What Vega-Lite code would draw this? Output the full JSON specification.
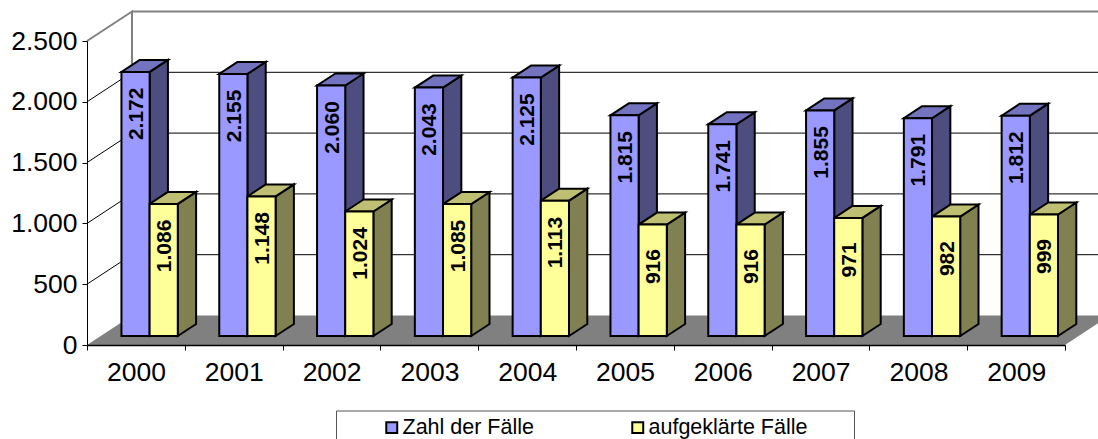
{"$schema":"https://vega.github.io/schema/vega-lite/v6.json","width":978,"height":304,"autosize":{"type":"none"},"padding":{"left":87,"top":41,"right":33,"bottom":94},"background":"white","config":{"view":{"stroke":null},"font":"Liberation Sans"},"data":{"values":[{"year":2000,"series":"Zahl der Fälle","value":2172},{"year":2001,"series":"Zahl der Fälle","value":2155},{"year":2002,"series":"Zahl der Fälle","value":2060},{"year":2003,"series":"Zahl der Fälle","value":2043},{"year":2004,"series":"Zahl der Fälle","value":2125},{"year":2005,"series":"Zahl der Fälle","value":1815},{"year":2006,"series":"Zahl der Fälle","value":1741},{"year":2007,"series":"Zahl der Fälle","value":1855},{"year":2008,"series":"Zahl der Fälle","value":1791},{"year":2009,"series":"Zahl der Fälle","value":1812},{"year":2000,"series":"aufgeklärte Fälle","value":1086},{"year":2001,"series":"aufgeklärte Fälle","value":1148},{"year":2002,"series":"aufgeklärte Fälle","value":1024},{"year":2003,"series":"aufgeklärte Fälle","value":1085},{"year":2004,"series":"aufgeklärte Fälle","value":1113},{"year":2005,"series":"aufgeklärte Fälle","value":916},{"year":2006,"series":"aufgeklärte Fälle","value":916},{"year":2007,"series":"aufgeklärte Fälle","value":971},{"year":2008,"series":"aufgeklärte Fälle","value":982},{"year":2009,"series":"aufgeklärte Fälle","value":999}]},"transform":[{"calculate":"datum.year-2000+(datum.series=='Zahl der Fälle'?-0.288:0)","as":"left"},{"calculate":"datum.year-2000+(datum.series=='Zahl der Fälle'?0:0.288)","as":"right"}],"layer":[{"data":{"values":[{"z":0},{"z":1}]},"transform":[{"calculate":"-0.5+0.46*datum.z","as":"fx"},{"calculate":"9.5+0.46*datum.z","as":"fx2"},{"calculate":"242.6*datum.z","as":"fy"}],"mark":{"type":"area","orient":"horizontal","fill":"#808080","clip":false},"encoding":{"y":{"field":"fy","type":"quantitative","scale":{"domain":[0,2500],"nice":false,"zero":false},"axis":{"values":[0,500,1000,1500,2000,2500],"title":null,"grid":false,"domainColor":"black","tickColor":"black","tickSize":5,"labelFontSize":26.5,"labelColor":"black","labelPadding":5,"labelExpr":"replace(format(datum.value,','),',','.')","zindex":1}},"x":{"field":"fx","type":"quantitative","scale":{"domain":[-0.5,9.5],"nice":false,"zero":false},"axis":{"values":[-0.5,0.5,1.5,2.5,3.5,4.5,5.5,6.5,7.5,8.5,9.5],"title":null,"grid":false,"domainColor":"black","domainWidth":1.5,"tickColor":"black","tickSize":5,"labelFontSize":26.5,"labelColor":"black","labelPadding":9,"labelOffset":49,"labelFlush":false,"labelOverlap":false,"labelExpr":"datum.value<9?format(datum.value+2000.5,'d'):''","zindex":1}},"x2":{"field":"fx2"}}},{"data":{"values":[{"tick":500,"p":0},{"tick":500,"p":1},{"tick":500,"p":2},{"tick":1000,"p":0},{"tick":1000,"p":1},{"tick":1000,"p":2},{"tick":1500,"p":0},{"tick":1500,"p":1},{"tick":1500,"p":2},{"tick":2000,"p":0},{"tick":2000,"p":1},{"tick":2000,"p":2}]},"transform":[{"calculate":"datum.p==0?-0.5:(datum.p==1?-0.04:9.96)","as":"gx"},{"calculate":"datum.tick+(datum.p>0?242.6:0)","as":"gy"}],"mark":{"type":"line","stroke":"black","strokeWidth":1,"clip":false},"encoding":{"x":{"field":"gx","type":"quantitative"},"y":{"field":"gy","type":"quantitative"},"detail":{"field":"tick"},"order":{"field":"p"}}},{"data":{"values":[{"p":0},{"p":1},{"p":2},{"p":3}]},"transform":[{"calculate":"datum.p==0?-0.04:(datum.p==1?-0.04:(datum.p==2?-0.5:-0.5))","as":"gx"},{"calculate":"datum.p==0?242.6:(datum.p==1?2742.6:2500)","as":"gy"}],"mark":{"type":"line","stroke":"#808080","strokeWidth":2,"clip":false},"encoding":{"x":{"field":"gx","type":"quantitative"},"y":{"field":"gy","type":"quantitative"},"order":{"field":"p"}}},{"data":{"values":[{"p":0},{"p":1}]},"transform":[{"calculate":"datum.p==0?-0.04:9.96","as":"gx"}],"mark":{"type":"line","stroke":"#808080","strokeWidth":2,"clip":false},"encoding":{"x":{"field":"gx","type":"quantitative"},"y":{"datum":2742.6,"type":"quantitative"}}},{"transform":[{"calculate":"[0.305,0.712]","as":"z"},{"flatten":["z"]},{"calculate":"datum.right+0.46*datum.z","as":"sx"},{"calculate":"datum.value+242.6*datum.z","as":"sy"},{"calculate":"242.6*datum.z","as":"sy2"}],"mark":{"type":"area","stroke":"black","strokeWidth":2,"strokeJoin":"miter","clip":false},"encoding":{"x":{"field":"sx","type":"quantitative"},"y":{"field":"sy","type":"quantitative"},"y2":{"field":"sy2"},"detail":[{"field":"year"},{"field":"series"}],"fill":{"condition":{"test":"datum.series=='Zahl der Fälle'","value":"#4D4D80"},"value":"#808050"}}},{"transform":[{"calculate":"[0.305,0.712]","as":"z"},{"flatten":["z"]},{"calculate":"datum.left+0.46*datum.z","as":"tx"},{"calculate":"datum.right+0.46*datum.z","as":"tx2"},{"calculate":"datum.value+242.6*datum.z","as":"ty"}],"mark":{"type":"area","orient":"horizontal","stroke":"black","strokeWidth":2,"strokeJoin":"miter","clip":false},"encoding":{"y":{"field":"ty","type":"quantitative"},"x":{"field":"tx","type":"quantitative"},"x2":{"field":"tx2"},"detail":[{"field":"year"},{"field":"series"}],"fill":{"condition":{"test":"datum.series=='Zahl der Fälle'","value":"#7373BF"},"value":"#BFBF73"}}},{"transform":[{"calculate":"datum.left+0.1403","as":"fx"},{"calculate":"datum.right+0.1403","as":"fx2"},{"calculate":"datum.value+74","as":"fy"},{"calculate":"74","as":"fy2"}],"mark":{"type":"rect","stroke":"black","strokeWidth":2,"clip":false},"encoding":{"x":{"field":"fx","type":"quantitative"},"x2":{"field":"fx2"},"y":{"field":"fy","type":"quantitative"},"y2":{"field":"fy2"},"color":{"field":"series","type":"nominal","scale":{"domain":["Zahl der Fälle","aufgeklärte Fälle"],"range":["#9999FF","#FFFF99"]},"legend":{"title":" ","titleOrient":"right","titlePadding":41,"orient":"none","legendX":249,"legendY":369.5,"direction":"horizontal","columns":2,"columnPadding":54,"symbolType":"square","symbolSize":120,"symbolOffset":39,"symbolStrokeColor":"black","symbolStrokeWidth":2,"symbolOpacity":1,"labelFontSize":21.5,"labelColor":"black","labelOffset":0,"strokeColor":"#555555","fillColor":"white","padding":6,"offset":0}}}},{"transform":[{"calculate":"(datum.left+datum.right)/2+0.1403+0.015","as":"lx"},{"calculate":"datum.value+74-345","as":"ly"},{"calculate":"replace(format(datum.value,','),',','.')","as":"label"}],"mark":{"type":"text","angle":270,"fontWeight":"bold","fontSize":21,"color":"black","align":"center","baseline":"middle","clip":false},"encoding":{"x":{"field":"lx","type":"quantitative"},"y":{"field":"ly","type":"quantitative"},"text":{"field":"label","type":"nominal"}}}]}
